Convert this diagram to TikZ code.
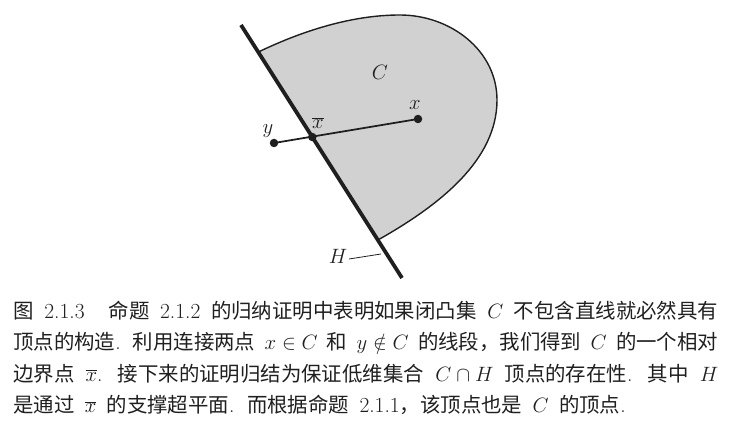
\documentclass[tikz,border=0pt]{standalone}
\usepackage{fontspec}
\usetikzlibrary{calc}
\newfontfamily\cjk[Scale=0.95]{Noto Sans CJK SC}
\XeTeXinterchartokenstate=1
\XeTeXinterchartoks 1 1 = {\hskip 0pt plus 3pt minus 0.8pt}
\XeTeXinterchartoks 3 1 = {\hskip 0pt plus 3pt minus 0.8pt}
\XeTeXinterchartoks 1 3 = {\hskip 0pt plus 1pt}
\definecolor{cfill}{gray}{0.82}
\definecolor{ink}{gray}{0.12}
\newcommand\capspace{\spaceskip=0.48em plus 0.3em minus 0.15em\relax}
\tikzset{
  hline/.style={draw=ink, line width=3.8pt},
  bound/.style={draw=ink, line width=1.4pt},
  seg/.style={draw=ink, line width=1.8pt},
  dotnode/.style={circle, fill=ink, inner sep=0pt, minimum size=8.5pt},
  lab/.style={inner sep=0pt, text=ink},
  capline/.style={anchor=base west, inner sep=0pt, text=ink},
}
\begin{document}
\begin{tikzpicture}[x=1pt,y=-1pt,font=\fontsize{21.5}{26}\selectfont]
\useasboundingbox (0,0) rectangle (737,425);
% supporting hyperplane H
\coordinate (Htop) at (241,25);
\coordinate (Hbot) at (402,278);
\coordinate (A) at ($(Htop)!0.107!(Hbot)$);
\coordinate (B) at ($(Htop)!0.85!(Hbot)$);
\coordinate (T) at (400,15);
\coordinate (R) at (497,100);
% convex set C
\fill[cfill] (A) .. controls (300,32) and (350,15) .. (T)
  .. controls (450,15) and (497,50) .. (R)
  .. controls (497,160) and (440,205) .. (B) -- cycle;
\draw[bound] (A) .. controls (300,32) and (350,15) .. (T)
  .. controls (450,15) and (497,50) .. (R)
  .. controls (497,160) and (440,205) .. (B);
\draw[hline] (Htop) -- (Hbot);
% points
\node[dotnode] (px) at (418,119) {};
\node[dotnode] (py) at (274,143) {};
\node[dotnode] (pxb) at ($(Htop)!0.4427!(Hbot)$) {};
\draw[seg] (py.center) -- (px.center);
% labels
\node[lab] (lC) at (380,72) {$C$};
\node[lab] (lx) at (415,105) {$x$};
\node[lab] (lxb) at (318,123) {$\overline{x}$};
\node[lab] (ly) at (268,131) {$y$};
\node[lab] (lH) at (338,256) {$H$};
\coordinate (tickA) at (349,259);
\coordinate (tickB) at (381,254);
\draw[draw=ink, line width=0.8pt] (tickA) -- (tickB);
% caption
\node[capline] (c1) at (13,318) {\capspace\makebox[705pt][s]{{\cjk 图} 2.1.3\hskip 24pt{\cjk 命题} 2.1.2 {\cjk 的归纳证明中表明如果闭凸集} $C$ {\cjk 不包含直线就必然具有}}};
\node[capline] (c2) at (13,349.5) {\capspace\makebox[705pt][s]{{\cjk 顶点的构造}. {\cjk 利用连接两点} $x\in C$ {\cjk 和} $y\notin C$ {\cjk 的线段，我们得到} $C$ {\cjk 的一个相对}}};
\node[capline] (c3) at (13,381) {\capspace\makebox[705pt][s]{{\cjk 边界点} $\overline{x}$. {\cjk 接下来的证明归结为保证低维集合} $C\cap H$ {\cjk 顶点的存在性}. {\cjk 其中} $H$}};
\node[capline] (c4) at (13,412.5) {\capspace{\cjk 是通过} $\overline{x}$ {\cjk 的支撑超平面}. {\cjk 而根据命题} 2.1.1{\cjk ，该顶点也是} $C$ {\cjk 的顶点}.};
\end{tikzpicture}
\end{document}
